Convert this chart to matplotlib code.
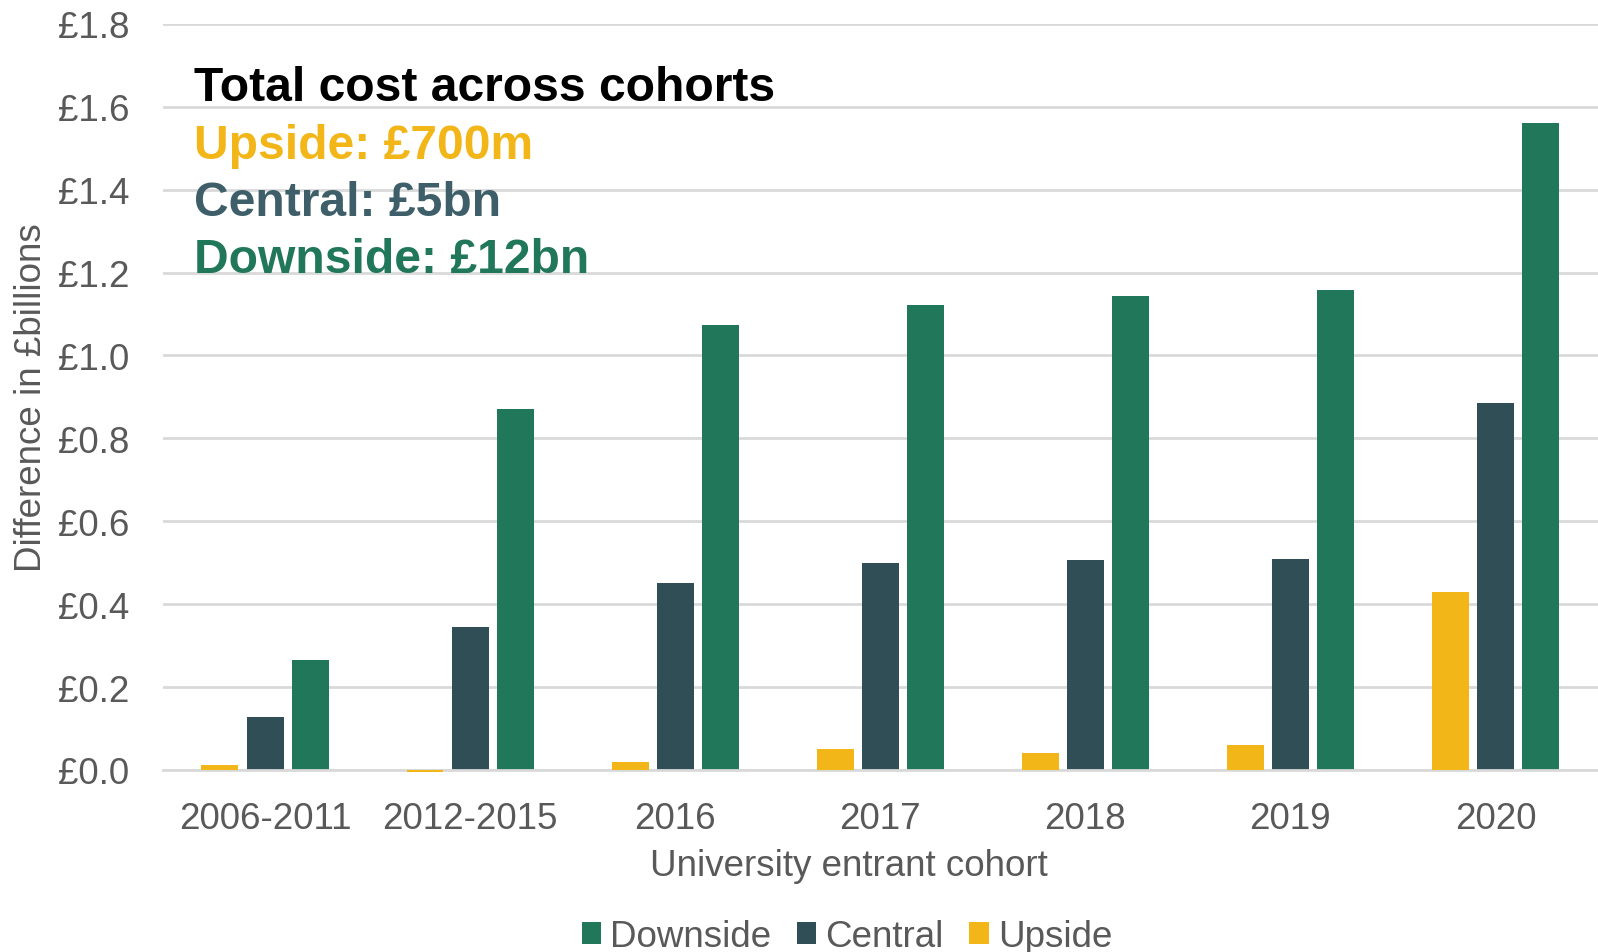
import matplotlib
matplotlib.use("Agg")
import matplotlib.pyplot as plt
import numpy as np

plt.rcParams['font.family'] = ['Liberation Sans', 'DejaVu Sans']

# data (GBP billions)
cohorts = ["2006-2011", "2012-2015", "2016", "2017", "2018", "2019", "2020"]
upside = [0.011, -0.005, 0.019, 0.050, 0.040, 0.060, 0.430]
central = [0.128, 0.344, 0.452, 0.499, 0.507, 0.509, 0.885]
downside = [0.266, 0.872, 1.074, 1.121, 1.144, 1.159, 1.561]

y_ticks = [0.0, 0.2, 0.4, 0.6, 0.8, 1.0, 1.2, 1.4, 1.6, 1.8]
totals = ["Upside: £700m", "Central: £5bn", "Downside: £12bn"]

col_down = "#21775A"
col_cent = "#304E55"
col_up = "#F2B619"
txt_grey = "#595959"
grid_grey = "#D9D9D9"

fig = plt.figure(figsize=(15.98, 9.53), dpi=100)
ax = fig.add_axes([0.1017, 0.191, 0.8983, 0.7829])

x = np.arange(len(cohorts))
w = 0.18
step = 0.22
ax.bar(x - step, upside, w, color=col_up, label="Upside", zorder=5, clip_on=False)
ax.bar(x, central, w, color=col_cent, label="Central", zorder=3)
ax.bar(x + step, downside, w, color=col_down, label="Downside", zorder=3)

ax.set_xlim(-0.5, len(cohorts) - 0.5)
ax.set_ylim(0, 1.8)
ax.set_yticks(y_ticks)
ax.set_yticklabels([f"£{v:.1f}" for v in y_ticks])
ax.set_xticks(x)
ax.set_xticklabels(cohorts)

ax.grid(axis="y", color=grid_grey, linewidth=2, zorder=0)
ax.set_axisbelow(True)
for s in ["top", "right", "left"]:
    ax.spines[s].set_visible(False)
ax.spines["bottom"].set_color(grid_grey)
ax.spines["bottom"].set_linewidth(2)
ax.spines["bottom"].set_zorder(4)

ax.tick_params(axis="y", length=0, pad=24, labelsize=26.5, labelcolor=txt_grey)
ax.tick_params(axis="x", length=0, pad=22, labelsize=26.5, labelcolor=txt_grey)

ax.set_xlabel("University entrant cohort", fontsize=26.5, color=txt_grey, labelpad=7.5)
ax.xaxis.set_label_coords(0.478, -0.105)
ax.set_ylabel("Difference in £billions", fontsize=26.5, color=txt_grey, labelpad=6)

# annotation block
tx = -0.346
dy = -0.01
ax.text(tx, 1.657 + dy, "Total cost across cohorts", fontsize=34.6, fontweight="bold",
        color="black", va="center", ha="left")
ax.text(tx, 1.517 + dy, totals[0], fontsize=34.6, fontweight="bold", color=col_up,
        va="center", ha="left")
ax.text(tx, 1.379 + dy, totals[1], fontsize=34.6, fontweight="bold", color="#3E5F69",
        va="center", ha="left")
ax.text(tx, 1.242 + dy, totals[2], fontsize=34.6, fontweight="bold", color=col_down,
        va="center", ha="left")

handles, labels = ax.get_legend_handles_labels()
fig.legend(handles[::-1], labels[::-1], loc="center", bbox_to_anchor=(0.53, 0.016),
           ncol=3, frameon=False, fontsize=26.5, labelcolor=txt_grey,
           handlelength=0.53, handleheight=0.53, handletextpad=0.25, columnspacing=0.69)

fig.savefig("out.png", dpi=100)
